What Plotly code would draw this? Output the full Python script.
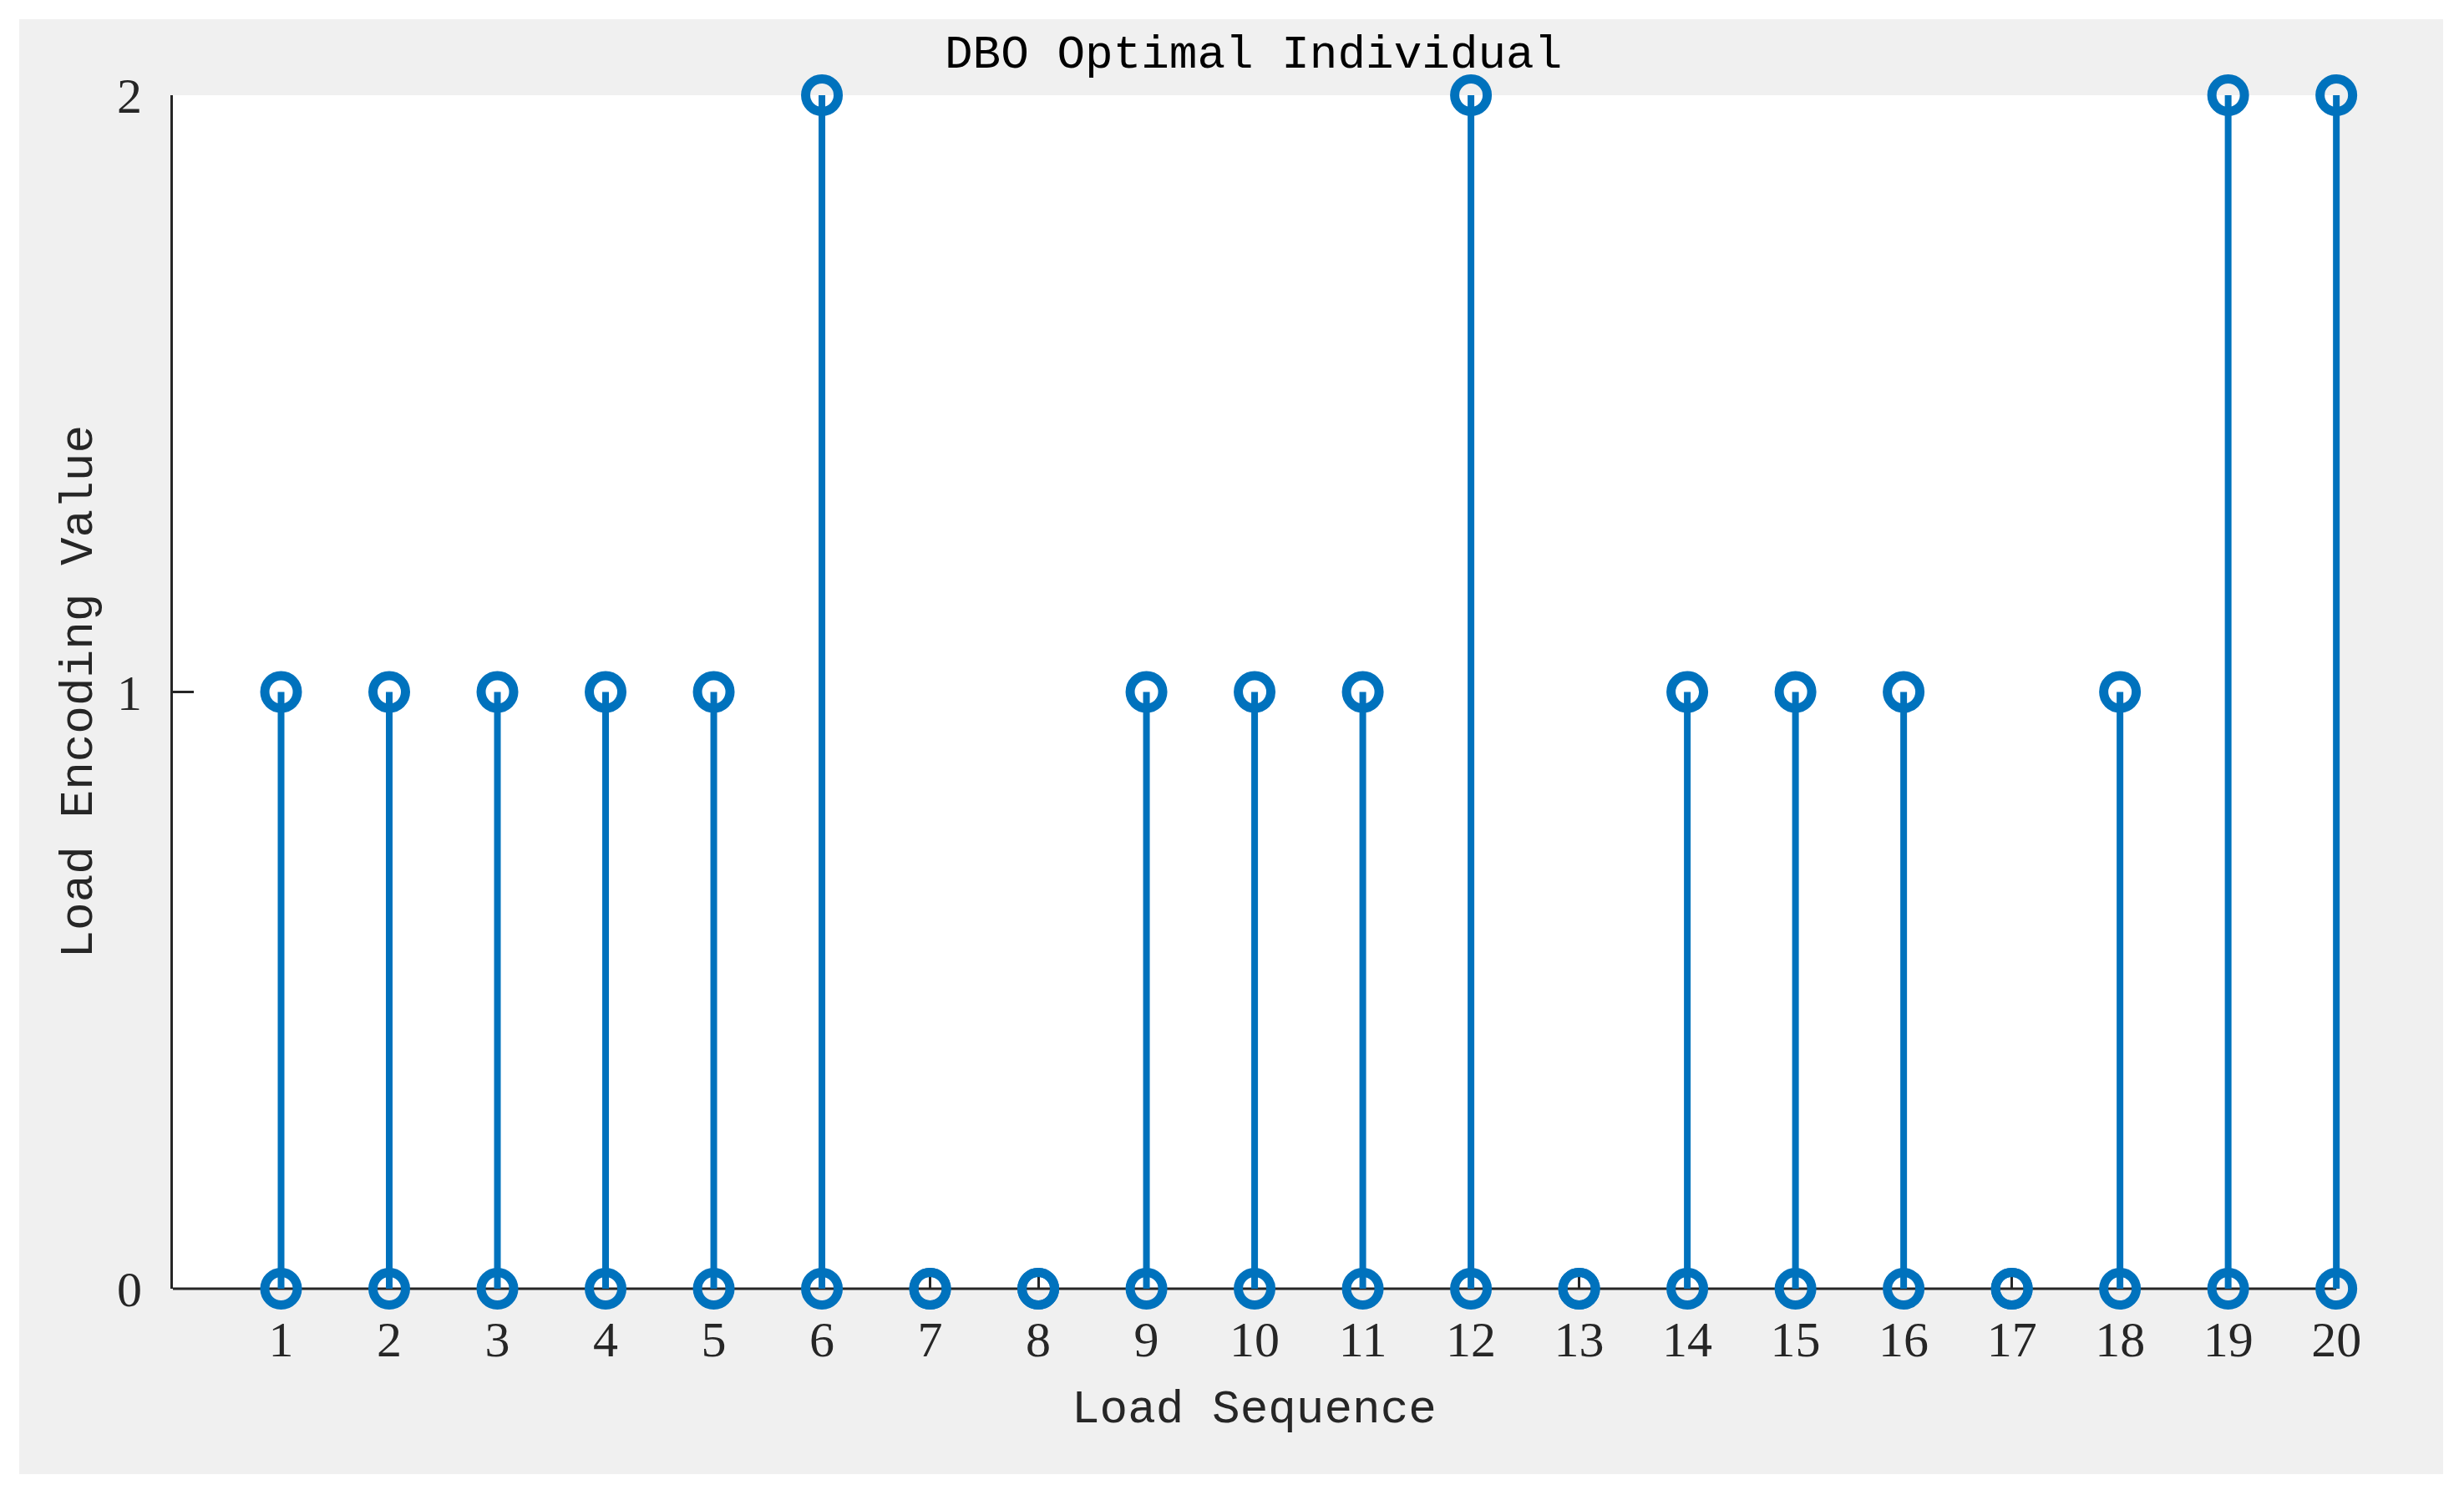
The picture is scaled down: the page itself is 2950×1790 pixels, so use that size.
import plotly.graph_objects as go

# ---- data ----
load_sequence = list(range(1, 21))
encoding_values = [1, 1, 1, 1, 1, 2, 0, 0, 1, 1, 1, 2, 0, 1, 1, 1, 0, 1, 2, 2]
y_ticks = [0, 1, 2]

title_text = "DBO Optimal Individual"
x_title = "Load Sequence"
y_title = "Load Encoding Value"

# ---- style ----
OFF = 8  # browser body margin
W, H = 2950 - OFF, 1790 - OFF
X_MAX = 20.3
L = 207 - OFF
T = 114 - OFF
B = H - (1543 - OFF)
unit = (2797 - 207) / 20.0
R = int(round(W - (L + X_MAX * unit)))
plot_w = W - L - R
plot_h = H - T - B
blue = "#0072BD"
axis_col = "#262626"
text_font = "Liberation Mono, DejaVu Sans Mono, monospace"
tick_font = "Liberation Serif, DejaVu Serif, serif"


def px_to_paper_x(px):
    return (px - OFF - L) / plot_w


def px_to_paper_y(py):
    return (H - B - (py - OFF)) / plot_h


# stems built from data
stem_x, stem_y = [], []
for xv, yv in zip(load_sequence, encoding_values):
    stem_x += [xv, xv, None]
    stem_y += [0, yv, None]

marker_style = dict(symbol="circle-open", size=39, color=blue,
                    line=dict(color=blue, width=11))

fig = go.Figure()
fig.add_trace(go.Scatter(
    x=stem_x, y=stem_y, mode="lines",
    line=dict(color=blue, width=8),
    hoverinfo="skip", showlegend=False, cliponaxis=False,
))
fig.add_trace(go.Scatter(
    x=load_sequence, y=[0] * len(load_sequence), mode="markers",
    marker=marker_style, showlegend=False, cliponaxis=False,
))
fig.add_trace(go.Scatter(
    x=load_sequence, y=encoding_values, mode="markers",
    marker=marker_style, showlegend=False, cliponaxis=False,
))

shapes = [
    dict(type="rect", xref="paper", yref="paper", layer="below",
         x0=px_to_paper_x(23), x1=px_to_paper_x(2925),
         y0=px_to_paper_y(1765), y1=px_to_paper_y(23),
         fillcolor="#f0f0f0", line=dict(width=0)),
    dict(type="rect", xref="x", yref="paper", layer="below",
         x0=0, x1=20, y0=0, y1=1,
         fillcolor="#ffffff", line=dict(width=0)),
    dict(type="line", xref="x", yref="paper", layer="below",
         x0=0, x1=20, y0=0, y1=0,
         line=dict(color=axis_col, width=3)),
]

annotations = [
    dict(text=title_text, xref="paper", yref="paper",
         x=px_to_paper_x(1500), y=px_to_paper_y(66),
         xanchor="center", yanchor="middle", showarrow=False,
         font=dict(family=text_font, size=56, color="#000000")),
    dict(text=x_title, xref="paper", yref="paper",
         x=px_to_paper_x(1501), y=px_to_paper_y(1688),
         xanchor="center", yanchor="middle", showarrow=False,
         font=dict(family=text_font, size=56, color=axis_col)),
    dict(text=y_title, xref="paper", yref="paper",
         x=px_to_paper_x(94), y=0.5, textangle=-90,
         xanchor="center", yanchor="middle", showarrow=False,
         font=dict(family=text_font, size=56, color=axis_col)),
]

fig.update_layout(
    width=W, height=H,
    margin=dict(l=L, r=R, t=T, b=B, pad=0),
    paper_bgcolor="#ffffff",
    plot_bgcolor="rgba(0,0,0,0)",
    shapes=shapes,
    annotations=annotations,
    showlegend=False,
    xaxis=dict(
        range=[0, X_MAX], tickmode="array", tickvals=load_sequence,
        ticktext=[str(v) for v in load_sequence],
        ticks="inside", ticklen=25, tickwidth=3, tickcolor=axis_col,
        showline=False,
        showgrid=False, zeroline=False, layer="below traces",
        tickfont=dict(family=tick_font, size=60, color=axis_col),
        ticklabelstandoff=20,
    ),
    yaxis=dict(
        range=[0, 2], tickmode="array", tickvals=y_ticks,
        ticktext=[str(v) for v in y_ticks],
        ticks="inside", ticklen=25, tickwidth=3, tickcolor=axis_col,
        showline=True, linecolor=axis_col, linewidth=3,
        showgrid=False, zeroline=False, layer="below traces",
        tickfont=dict(family=tick_font, size=60, color=axis_col),
        ticklabelstandoff=22,
    ),
)

fig.write_html("out.html")
